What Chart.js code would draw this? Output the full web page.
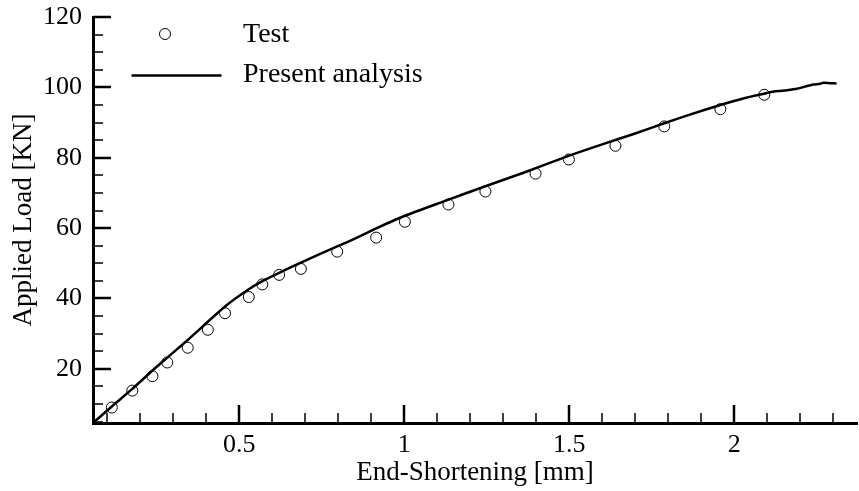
<!DOCTYPE html>
<html>
<head>
<meta charset="utf-8">
<script src="https://cdn.jsdelivr.net/npm/chart.js@4.4.1/dist/chart.umd.min.js"></script>
<style>
  html, body { margin: 0; padding: 0; background: #fff; }
  #wrap { width: 859px; height: 491px; }
</style>
</head>
<body>
<div id="wrap"><canvas id="chart" width="859" height="491"></canvas></div>
<script>
// Test measurements (circles)
const testX = [0.114, 0.176, 0.237, 0.282, 0.344, 0.405, 0.457, 0.529, 0.570, 0.621, 0.687, 0.797,
               0.915, 1.002, 1.134, 1.246, 1.398, 1.499, 1.640, 1.788, 1.958, 2.091];
const testY = [9.0, 13.8, 17.9, 21.8, 26.0, 31.1, 35.8, 40.4, 44.0, 46.7, 48.4, 53.3,
               57.3, 61.8, 66.7, 70.4, 75.5, 79.5, 83.4, 88.9, 93.8, 97.9];

// Present analysis (solid line)
const femX = [0.057, 0.114, 0.176, 0.25, 0.344, 0.457, 0.529, 0.58, 0.621, 0.687, 0.797, 0.834,
              0.915, 1.002, 1.12, 1.246, 1.37, 1.5, 1.593, 1.70, 1.788, 1.87, 1.958, 2.03, 2.091,
              2.12, 2.14, 2.16, 2.19, 2.21, 2.24, 2.26, 2.27, 2.29, 2.31];
const femY = [4.6, 9.3, 14.3, 20.6, 28.2, 37.7, 42.6, 45.4, 47.3, 50.2, 54.8, 56.3,
              59.9, 63.5, 67.6, 71.9, 76.0, 80.6, 83.6, 86.9, 89.8, 92.4, 95.0, 96.9, 98.2,
              98.8, 99.0, 99.2, 99.6, 100.1, 100.8, 101.0, 101.3, 101.2, 101.1];

// Axis ticks
const xTickLabels = [0.5, 1, 1.5, 2];
const yTickLabels = [20, 40, 60, 80, 100, 120];
const xRange = [0.057, 2.372];
const yRange = [4.6, 120];

const FONT = 'Liberation Serif, Times New Roman, serif';

const toPoints = (xs, ys) => xs.map((x, i) => ({ x: x, y: ys[i] }));

// inward ticks drawn from the scales
const innerTicks = {
  id: 'innerTicks',
  afterDraw(chart) {
    const ctx = chart.ctx;
    const xs = chart.scales.x, ys = chart.scales.y;
    const ca = chart.chartArea;
    ctx.save();
    ctx.strokeStyle = '#000';
    for (let v = 0.1; v < xRange[1]; v += 0.1) {
      const val = Math.round(v * 10) / 10;
      if (val < xRange[0]) continue;
      const major = Math.abs(val * 2 - Math.round(val * 2)) < 1e-6;
      const px = Math.round(xs.getPixelForValue(val));
      ctx.lineWidth = major ? 2.5 : 1.5;
      ctx.beginPath();
      ctx.moveTo(px, ca.bottom);
      ctx.lineTo(px, ca.bottom - (major ? 18 : 10));
      ctx.stroke();
    }
    for (let v = 5; v <= yRange[1]; v += 5) {
      if (v < yRange[0]) continue;
      const major = v % 20 === 0;
      const py = Math.round(ys.getPixelForValue(v));
      ctx.lineWidth = major ? 2.5 : 1.5;
      ctx.beginPath();
      ctx.moveTo(ca.left, py);
      ctx.lineTo(ca.left + (major ? 18 : 10), py);
      ctx.stroke();
    }
    ctx.restore();
  }
};

// legend in the upper-left of the plot
const insideLegend = {
  id: 'insideLegend',
  afterDraw(chart) {
    const ctx = chart.ctx;
    ctx.save();
    ctx.strokeStyle = '#000';
    ctx.fillStyle = '#000';
    ctx.lineWidth = 1;
    ctx.beginPath();
    ctx.arc(165, 34, 5.5, 0, Math.PI * 2);
    ctx.stroke();
    ctx.lineWidth = 2.5;
    ctx.beginPath();
    ctx.moveTo(131.5, 75.5);
    ctx.lineTo(221.5, 75.5);
    ctx.stroke();
    ctx.font = '28px ' + FONT;
    ctx.textBaseline = 'alphabetic';
    ctx.fillText(chart.data.datasets[0].label, 243, 41.5);
    ctx.fillText(chart.data.datasets[1].label, 243, 82);
    ctx.restore();
  }
};

new Chart(document.getElementById('chart'), {
  type: 'scatter',
  data: {
    datasets: [
      {
        label: 'Test',
        data: toPoints(testX, testY),
        showLine: false,
        pointStyle: 'circle',
        pointRadius: 5.5,
        pointBorderWidth: 1,
        pointBorderColor: '#000',
        pointBackgroundColor: 'rgba(0,0,0,0)'
      },
      {
        label: 'Present analysis',
        data: toPoints(femX, femY),
        showLine: true,
        borderColor: '#000',
        borderWidth: 2.5,
        pointRadius: 0,
        tension: 0.2,
        fill: false
      }
    ]
  },
  options: {
    responsive: false,
    animation: false,
    layout: { autoPadding: false, padding: { left: 0, top: 17, right: 2, bottom: 0 } },
    plugins: { legend: { display: false }, tooltip: { enabled: false } },
    scales: {
      x: {
        type: 'linear',
        min: xRange[0], max: xRange[1],
        afterBuildTicks: s => { s.ticks = xTickLabels.map(v => ({ value: v })); },
        afterFit: s => { s.height = 68; s.paddingLeft = 0; s.paddingRight = 0; },
        grid: { display: false, drawTicks: false },
        border: { display: true, color: '#000', width: 3 },
        ticks: { color: '#000', padding: 7, maxRotation: 0, font: { family: FONT, size: 26 },
                 callback: v => String(v) },
        title: { display: true, text: 'End-Shortening [mm]', color: '#000',
                 font: { family: FONT, size: 27 }, padding: { top: 0, bottom: 2 } }
      },
      y: {
        type: 'linear',
        min: yRange[0], max: yRange[1],
        afterBuildTicks: s => { s.ticks = yTickLabels.map(v => ({ value: v })); },
        afterFit: s => { s.width = 93; s.paddingTop = 0; s.paddingBottom = 0; },
        grid: { display: false, drawTicks: false },
        border: { display: true, color: '#000', width: 3 },
        ticks: { color: '#000', padding: 11, font: { family: FONT, size: 26 } },
        title: { display: true, text: 'Applied Load [KN]', color: '#000',
                 font: { family: FONT, size: 27 }, padding: { top: 8, bottom: 0 } }
      }
    }
  },
  plugins: [innerTicks, insideLegend]
});
</script>
</body>
</html>
